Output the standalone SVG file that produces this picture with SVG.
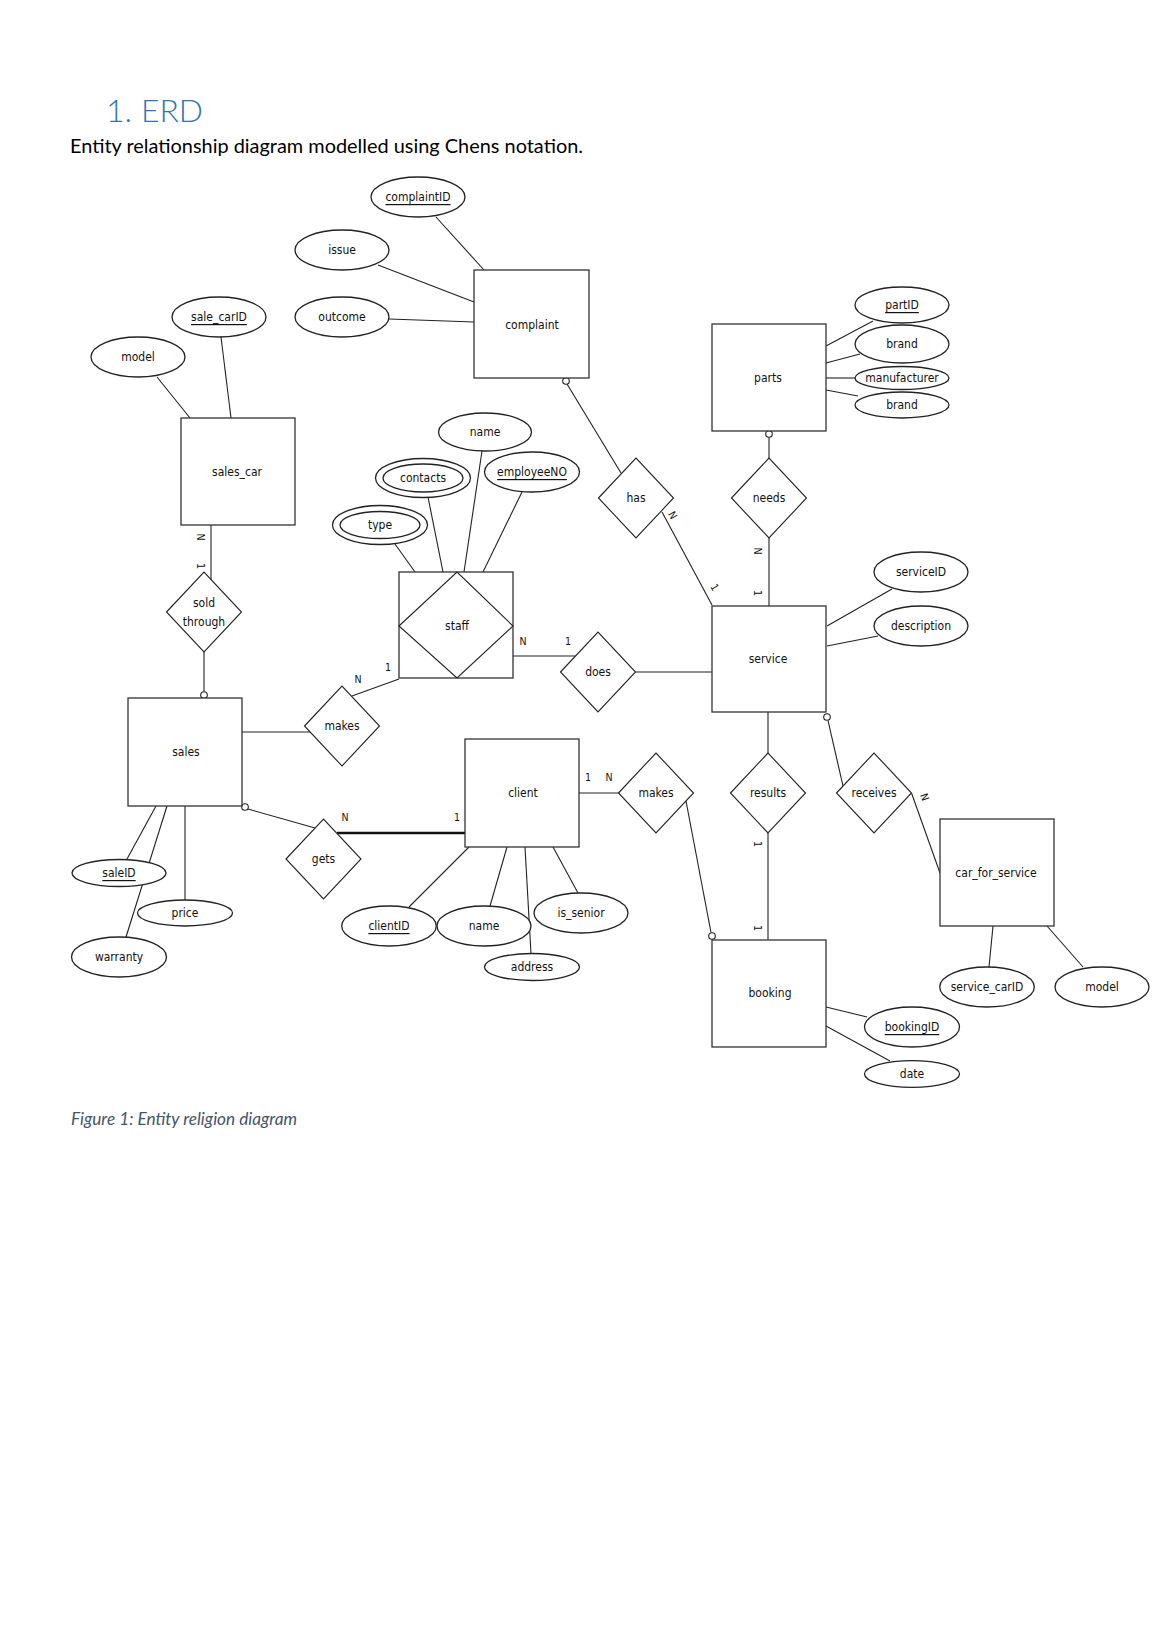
<svg xmlns="http://www.w3.org/2000/svg" width="1158" height="1638" viewBox="0 0 1158 1638">
<style>
.bg{fill:#fff}
.ent{fill:#fff;stroke:#333;stroke-width:1.3}
.rel{fill:#fff;stroke:#222;stroke-width:1.1}
.att{fill:#fff;stroke:#222;stroke-width:1.3}
.ln{stroke:#222;stroke-width:1.1;fill:none}
.thick{stroke:#111;stroke-width:2.6;fill:none}
.opt{fill:#fff;stroke:#222;stroke-width:1.1}
.t{font-family:"Liberation Sans Narrow","DejaVu Sans Condensed","Liberation Sans",sans-serif;font-size:12px;fill:#111;text-anchor:middle;dominant-baseline:central}
.u{text-decoration:underline}
.c{font-family:"Liberation Sans Narrow","DejaVu Sans Condensed","Liberation Sans",sans-serif;font-size:10.5px;fill:#111;text-anchor:middle;dominant-baseline:central}
.h{font-family:"Lato","Liberation Sans",sans-serif;font-weight:300;font-size:32px;fill:#2E74B5}
.b{font-family:"Lato","Liberation Sans",sans-serif;font-size:20px;fill:#000}
.cap{font-family:"Lato","Liberation Sans",sans-serif;font-style:italic;font-size:17px;fill:#44546A}
</style>
<rect class="bg" x="0" y="0" width="1158" height="1638"/>
<g id="heading">
<text class="h" x="106" y="122">1.</text>
<text class="h" x="141" y="122" textLength="62" lengthAdjust="spacingAndGlyphs">ERD</text>
<text class="b" x="70" y="153" textLength="513" lengthAdjust="spacingAndGlyphs">Entity relationship diagram modelled using Chens notation.</text>
</g>

<g id="connectors">
<!-- complaint attributes -->
<line class="ln" x1="436" y1="217" x2="484" y2="270"/>
<line class="ln" x1="378" y1="265" x2="474" y2="302"/>
<line class="ln" x1="389" y1="319" x2="474" y2="322"/>
<!-- parts attributes -->
<line class="ln" x1="826" y1="346" x2="873" y2="321"/>
<line class="ln" x1="826" y1="363" x2="860" y2="354"/>
<line class="ln" x1="826" y1="378" x2="855" y2="378"/>
<line class="ln" x1="826" y1="390" x2="858" y2="396"/>
<!-- sales_car attributes -->
<line class="ln" x1="157" y1="377" x2="190" y2="418"/>
<line class="ln" x1="221" y1="337" x2="231" y2="418"/>
<!-- staff attributes -->
<line class="ln" x1="395" y1="544" x2="415" y2="572"/>
<line class="ln" x1="428" y1="497" x2="443" y2="572"/>
<line class="ln" x1="482" y1="451" x2="464" y2="572"/>
<line class="ln" x1="522" y1="492" x2="483" y2="572"/>
<!-- service attributes -->
<line class="ln" x1="827" y1="626" x2="892" y2="589"/>
<line class="ln" x1="827" y1="646" x2="878" y2="636"/>
<!-- sales attributes -->
<line class="ln" x1="156" y1="806" x2="127" y2="859"/>
<line class="ln" x1="167" y1="806" x2="126" y2="937"/>
<line class="ln" x1="185" y1="806" x2="185" y2="900"/>
<!-- client attributes -->
<line class="ln" x1="469" y1="847" x2="409" y2="907"/>
<line class="ln" x1="507" y1="847" x2="490" y2="906"/>
<line class="ln" x1="525" y1="847" x2="531" y2="954"/>
<line class="ln" x1="553" y1="847" x2="578" y2="893"/>
<!-- car_for_service attributes -->
<line class="ln" x1="993" y1="926" x2="989" y2="967"/>
<line class="ln" x1="1047" y1="926" x2="1083" y2="967"/>
<!-- booking attributes -->
<line class="ln" x1="826" y1="1007" x2="867" y2="1017"/>
<line class="ln" x1="826" y1="1026" x2="890" y2="1061"/>
<!-- relationships -->
<line class="ln" x1="567" y1="384" x2="621" y2="473"/>
<line class="ln" x1="662" y1="512" x2="712" y2="605"/>
<line class="ln" x1="769" y1="437.5" x2="769" y2="458"/>
<line class="ln" x1="769" y1="538" x2="769" y2="606"/>
<line class="ln" x1="211" y1="525" x2="211" y2="580"/>
<line class="ln" x1="204" y1="652" x2="204" y2="691.5"/>
<line class="ln" x1="513" y1="656" x2="576" y2="656"/>
<line class="ln" x1="635.5" y1="672" x2="712" y2="672"/>
<line class="ln" x1="399" y1="679" x2="352" y2="696"/>
<line class="ln" x1="242" y1="732" x2="310" y2="732"/>
<line class="ln" x1="248" y1="809" x2="315" y2="828"/>
<line class="thick" x1="337" y1="833" x2="465" y2="833"/>
<line class="ln" x1="579" y1="793" x2="618.5" y2="793"/>
<line class="ln" x1="686" y1="801" x2="711" y2="932.5"/>
<line class="ln" x1="768" y1="712" x2="768" y2="753"/>
<line class="ln" x1="768" y1="833" x2="768" y2="940"/>
<line class="ln" x1="828" y1="720.5" x2="843" y2="786"/>
<line class="ln" x1="911.5" y1="793" x2="940" y2="873"/>
<!-- optionality circles -->
<circle class="opt" cx="566" cy="381" r="3.3"/>
<circle class="opt" cx="769" cy="434" r="3.3"/>
<circle class="opt" cx="204" cy="695" r="3.3"/>
<circle class="opt" cx="245" cy="807" r="3.3"/>
<circle class="opt" cx="827" cy="717" r="3.3"/>
<circle class="opt" cx="712" cy="936" r="3.3"/>
<!-- cardinalities -->
<text class="c" x="523" y="641">N</text>
<text class="c" x="568" y="641">1</text>
<text class="c" x="358" y="679">N</text>
<text class="c" x="388" y="667">1</text>
<text class="c" x="345" y="817">N</text>
<text class="c" x="457" y="817">1</text>
<text class="c" x="588" y="777">1</text>
<text class="c" x="609" y="777">N</text>
<text class="c" transform="translate(201 537) rotate(90)">N</text>
<text class="c" transform="translate(201 566) rotate(90)">1</text>
<text class="c" transform="translate(758 551) rotate(90)">N</text>
<text class="c" transform="translate(758 593) rotate(90)">1</text>
<text class="c" transform="translate(673 515) rotate(60)">N</text>
<text class="c" transform="translate(715 587) rotate(60)">1</text>
<text class="c" transform="translate(758 844) rotate(90)">1</text>
<text class="c" transform="translate(758 928) rotate(90)">1</text>
<text class="c" transform="translate(925 797) rotate(70)">N</text>
<text class="c" transform="translate(946 855) rotate(70)">1</text>
</g>

<g id="complaint"><rect class="ent" x="474" y="270" width="115" height="108"/><text class="t" x="532" y="325">complaint</text></g>
<g id="parts"><rect class="ent" x="712" y="324" width="114" height="107"/><text class="t" x="768" y="378">parts</text></g>
<g id="sales_car"><rect class="ent" x="181" y="418" width="114" height="107"/><text class="t" x="237" y="472">sales_car</text></g>
<g id="staff"><rect class="ent" x="399" y="572" width="114" height="106"/><polygon class="rel" points="399,626 457,572 513,626 457,678"/><text class="t" x="457" y="626">staff</text></g>
<g id="service"><rect class="ent" x="712" y="606" width="114" height="106"/><text class="t" x="768" y="659">service</text></g>
<g id="sales"><rect class="ent" x="128" y="698" width="114" height="108"/><text class="t" x="186" y="752">sales</text></g>
<g id="client"><rect class="ent" x="465" y="739" width="114" height="108"/><text class="t" x="523" y="793">client</text></g>
<g id="booking"><rect class="ent" x="712" y="940" width="114" height="107"/><text class="t" x="770" y="993">booking</text></g>
<g id="car_for_service"><rect class="ent" x="940" y="819" width="114" height="107"/><text class="t" x="996" y="873">car_for_service</text></g>

<g id="rel_has"><polygon class="rel" points="598.5,498 636,458 673.5,498 636,538"/><text class="t" x="636" y="498">has</text></g>
<g id="rel_needs"><polygon class="rel" points="731.5,498 769,458 806.5,498 769,538"/><text class="t" x="769" y="498">needs</text></g>
<g id="rel_sold_through"><polygon class="rel" points="166.5,612 204,572 241.5,612 204,652"/><text class="t" x="204" y="603">sold</text><text class="t" x="204" y="622">through</text></g>
<g id="rel_does"><polygon class="rel" points="560.5,672 598,632 635.5,672 598,712"/><text class="t" x="598" y="672">does</text></g>
<g id="rel_makes_staff"><polygon class="rel" points="304.5,726 342,686 379.5,726 342,766"/><text class="t" x="342" y="726">makes</text></g>
<g id="rel_gets"><polygon class="rel" points="286,859 323.5,819 361,859 323.5,899"/><text class="t" x="323.5" y="859">gets</text></g>
<g id="rel_makes_client"><polygon class="rel" points="618.5,793 656,753 693.5,793 656,833"/><text class="t" x="656" y="793">makes</text></g>
<g id="rel_results"><polygon class="rel" points="730.5,793 768,753 805.5,793 768,833"/><text class="t" x="768" y="793">results</text></g>
<g id="rel_receives"><polygon class="rel" points="836.5,793 874,753 911.5,793 874,833"/><text class="t" x="874" y="793">receives</text></g>

<g id="att_complaintID"><ellipse class="att" cx="418" cy="197" rx="47" ry="20"/><text class="t u" x="418" y="197">complaintID</text></g>
<g id="att_issue"><ellipse class="att" cx="342" cy="250" rx="47" ry="20"/><text class="t" x="342" y="250">issue</text></g>
<g id="att_outcome"><ellipse class="att" cx="342" cy="317" rx="47" ry="20"/><text class="t" x="342" y="317">outcome</text></g>
<g id="att_sale_carID"><ellipse class="att" cx="219" cy="317" rx="47" ry="20"/><text class="t u" x="219" y="317">sale_carID</text></g>
<g id="att_model_sales"><ellipse class="att" cx="138" cy="357" rx="47" ry="20"/><text class="t" x="138" y="357">model</text></g>
<g id="att_partID"><ellipse class="att" cx="902" cy="305" rx="47" ry="18"/><text class="t u" x="902" y="305">partID</text></g>
<g id="att_brand1"><ellipse class="att" cx="902" cy="344" rx="47" ry="19"/><text class="t" x="902" y="344">brand</text></g>
<g id="att_manufacturer"><ellipse class="att" cx="902" cy="378" rx="47" ry="11.5"/><text class="t" x="902" y="378">manufacturer</text></g>
<g id="att_brand2"><ellipse class="att" cx="902" cy="405" rx="47" ry="13"/><text class="t" x="902" y="405">brand</text></g>
<g id="att_staff_name"><ellipse class="att" cx="485" cy="432" rx="46.5" ry="19"/><text class="t" x="485" y="432">name</text></g>
<g id="att_contacts"><ellipse class="att" cx="423" cy="478" rx="47.5" ry="19.5"/><ellipse class="att" cx="423" cy="478" rx="40" ry="14"/><text class="t" x="423" y="478">contacts</text></g>
<g id="att_type"><ellipse class="att" cx="380" cy="525" rx="47.5" ry="19.5"/><ellipse class="att" cx="380" cy="525" rx="40" ry="13.5"/><text class="t" x="380" y="525">type</text></g>
<g id="att_employeeNO"><ellipse class="att" cx="532" cy="472" rx="47.5" ry="20"/><text class="t u" x="532" y="472">employeeNO</text></g>
<g id="att_serviceID"><ellipse class="att" cx="921" cy="572" rx="47" ry="20"/><text class="t" x="921" y="572">serviceID</text></g>
<g id="att_description"><ellipse class="att" cx="921" cy="626" rx="47" ry="20"/><text class="t" x="921" y="626">description</text></g>
<g id="att_saleID"><ellipse class="att" cx="119" cy="873" rx="47" ry="13.5"/><text class="t u" x="119" y="873">saleID</text></g>
<g id="att_price"><ellipse class="att" cx="185" cy="913" rx="47.5" ry="13"/><text class="t" x="185" y="913">price</text></g>
<g id="att_warranty"><ellipse class="att" cx="119" cy="957" rx="47.5" ry="20"/><text class="t" x="119" y="957">warranty</text></g>
<g id="att_clientID"><ellipse class="att" cx="389" cy="926" rx="47.3" ry="20"/><text class="t u" x="389" y="926">clientID</text></g>
<g id="att_client_name"><ellipse class="att" cx="484" cy="926" rx="47" ry="20"/><text class="t" x="484" y="926">name</text></g>
<g id="att_is_senior"><ellipse class="att" cx="581" cy="913" rx="47" ry="20"/><text class="t" x="581" y="913">is_senior</text></g>
<g id="att_address"><ellipse class="att" cx="532" cy="967" rx="47.5" ry="13.5"/><text class="t" x="532" y="967">address</text></g>
<g id="att_service_carID"><ellipse class="att" cx="987" cy="987" rx="47.3" ry="20"/><text class="t" x="987" y="987">service_carID</text></g>
<g id="att_model_service"><ellipse class="att" cx="1102" cy="987" rx="47" ry="20"/><text class="t" x="1102" y="987">model</text></g>
<g id="att_bookingID"><ellipse class="att" cx="912" cy="1027" rx="47.5" ry="20"/><text class="t u" x="912" y="1027">bookingID</text></g>
<g id="att_date"><ellipse class="att" cx="912" cy="1074" rx="47.5" ry="13.3"/><text class="t" x="912" y="1074">date</text></g>

<g id="caption"><text class="cap" x="71" y="1125" textLength="226" lengthAdjust="spacingAndGlyphs">Figure 1: Entity religion diagram</text></g>
</svg>
